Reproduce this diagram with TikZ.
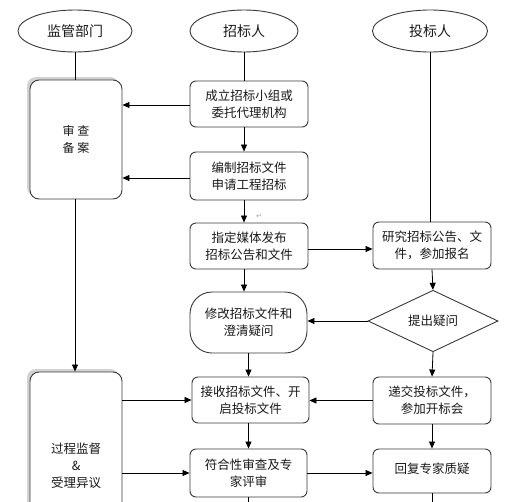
\documentclass[tikz,border=0pt]{standalone}
\usepackage{fontspec}
\setmainfont{Noto Sans CJK SC}
\newfontfamily\symfont{DejaVu Sans}
\usetikzlibrary{shapes.geometric,arrows.meta,shadows}
\definecolor{edge}{HTML}{3A3A3A}
\tikzset{
  base/.style={draw=edge,line width=0.9pt,fill=white,align=center,inner sep=0pt,
    font=\fontsize{12.5}{17}\selectfont,text=black!90},
  stepbox/.style={base,rounded corners=6pt},
  sidebox/.style={base,rounded corners=9pt,
    drop shadow={shadow xshift=-3pt,shadow yshift=3pt,opacity=0.35,fill=gray}},
  actor/.style={base,ellipse,font=\fontsize{14}{17}\selectfont},
  ask/.style={base,diamond},
  arr/.style={draw=black,line width=0.8pt,-{Triangle[length=7pt,width=6pt]}},
  ln/.style={draw=black,line width=0.8pt},
}
\begin{document}
\begin{tikzpicture}[x=1pt,y=-1pt]
\clip (0,0) rectangle (530,501);
\fill[white] (0,0) rectangle (530,501);
% actors
\node[actor,minimum width=114pt,minimum height=42pt] (e1) at (75,31) {监管部门};
\node[actor,minimum width=108pt,minimum height=42pt] (e2) at (244,31) {招标人};
\node[actor,minimum width=115pt,minimum height=42pt] (e3) at (430,31) {投标人};
% left side boxes
\node[sidebox,minimum width=92pt,minimum height=119pt,font=\fontsize{12}{17}\selectfont] (b1) at (76,139.5) {审\ 查\\备\ 案};
\node[sidebox,minimum width=92pt,minimum height=188pt] (b2) at (76,466) {过程监督\\\&\\受理异议};
% centre column
\node[stepbox,minimum width=118pt,minimum height=46pt] (n1) at (249,104) {成立招标小组或\\委托代理机构};
\node[stepbox,minimum width=118pt,minimum height=48pt] (n2) at (249,176) {编制招标文件\\申请工程招标};
\node[stepbox,minimum width=118pt,minimum height=46pt] (n3) at (249,246) {指定媒体发布\\招标公告和文件};
\node[stepbox,rounded corners=22pt,minimum width=117pt,minimum height=61pt] (n5) at (248.5,322.5) {修改招标文件和\\澄清疑问};
\node[stepbox,minimum width=117pt,minimum height=46pt] (n6) at (250.5,400) {接收招标文件、开\\启投标文件};
\node[stepbox,minimum width=117pt,minimum height=48pt] (n8) at (248.5,473) {符合性审查及专\\家评审};
% right column
\node[stepbox,minimum width=118pt,minimum height=47pt] (n4) at (432,245.5) {研究招标公告、文\\件，参加报名};
\node[ask,minimum width=130pt,minimum height=52pt] (d) at (433,321) {提出疑问};
\node[stepbox,minimum width=118pt,minimum height=47pt] (n7) at (432,400.5) {递交投标文件，\\参加开标会};
\node[stepbox,minimum width=118pt,minimum height=44pt] (n9) at (432,471) {\raisebox{5pt}{回复专家质疑}};
% stray return mark
\node[text=gray!70,font=\symfont\fontsize{7}{7}\selectfont,inner sep=0pt] (ret) at (259,216) {↵};
% off-page ends
\coordinate (c1) at (248.5,510);
\coordinate (c2) at (432,510);
% connectors
\draw[ln] (e1.south) -- (e1.south |- b1.north);
\draw[arr] (e1.south |- b1.south) -- (e1.south |- b2.north);
\draw[ln] (e2.south) -- (e2.south |- n1.north);
\draw[arr] (e2.south |- n1.south) -- (e2.south |- n2.north);
\draw[arr] (e2.south |- n2.south) -- (e2.south |- n3.north);
\draw[arr] (e2.south |- n3.south) -- (e2.south |- n5.north);
\draw[arr] (n5.south) -- (n5.south |- n6.north);
\draw[arr] (n5.south |- n6.south) -- (n5.south |- n8.north);
\draw[ln] (n8.south) -- (c1);
\draw[arr] ([yshift=-1pt]n1.west) -- ([yshift=-1pt]n1.west -| b1.east);
\draw[arr] ([yshift=-2pt]n2.west) -- ([yshift=-2pt]n2.west -| b1.east);
\draw[arr] ([yshift=-3pt]n3.east) -- ([yshift=-3pt]n3.east -| n4.west);
\draw[ln] (e3.south) -- (e3.south |- n4.north);
\draw[arr] (n4.south) -- (d.north);
\draw[arr] (d.west) -- (d.west -| n5.east);
\draw[arr] (d.south) -- (n7.north);
\draw[arr] (n7.south) -- (n9.north);
\draw[ln] (n9.south) -- (c2);
\draw[arr] (b2.east |- n6.west) -- (n6.west);
\draw[arr] (n7.west) -- (n7.west -| n6.east);
\draw[arr] (b2.east |- n8.west) -- (n8.west);
\draw[arr] (n8.east) -- (n8.east -| n9.west);
\end{tikzpicture}
\end{document}
